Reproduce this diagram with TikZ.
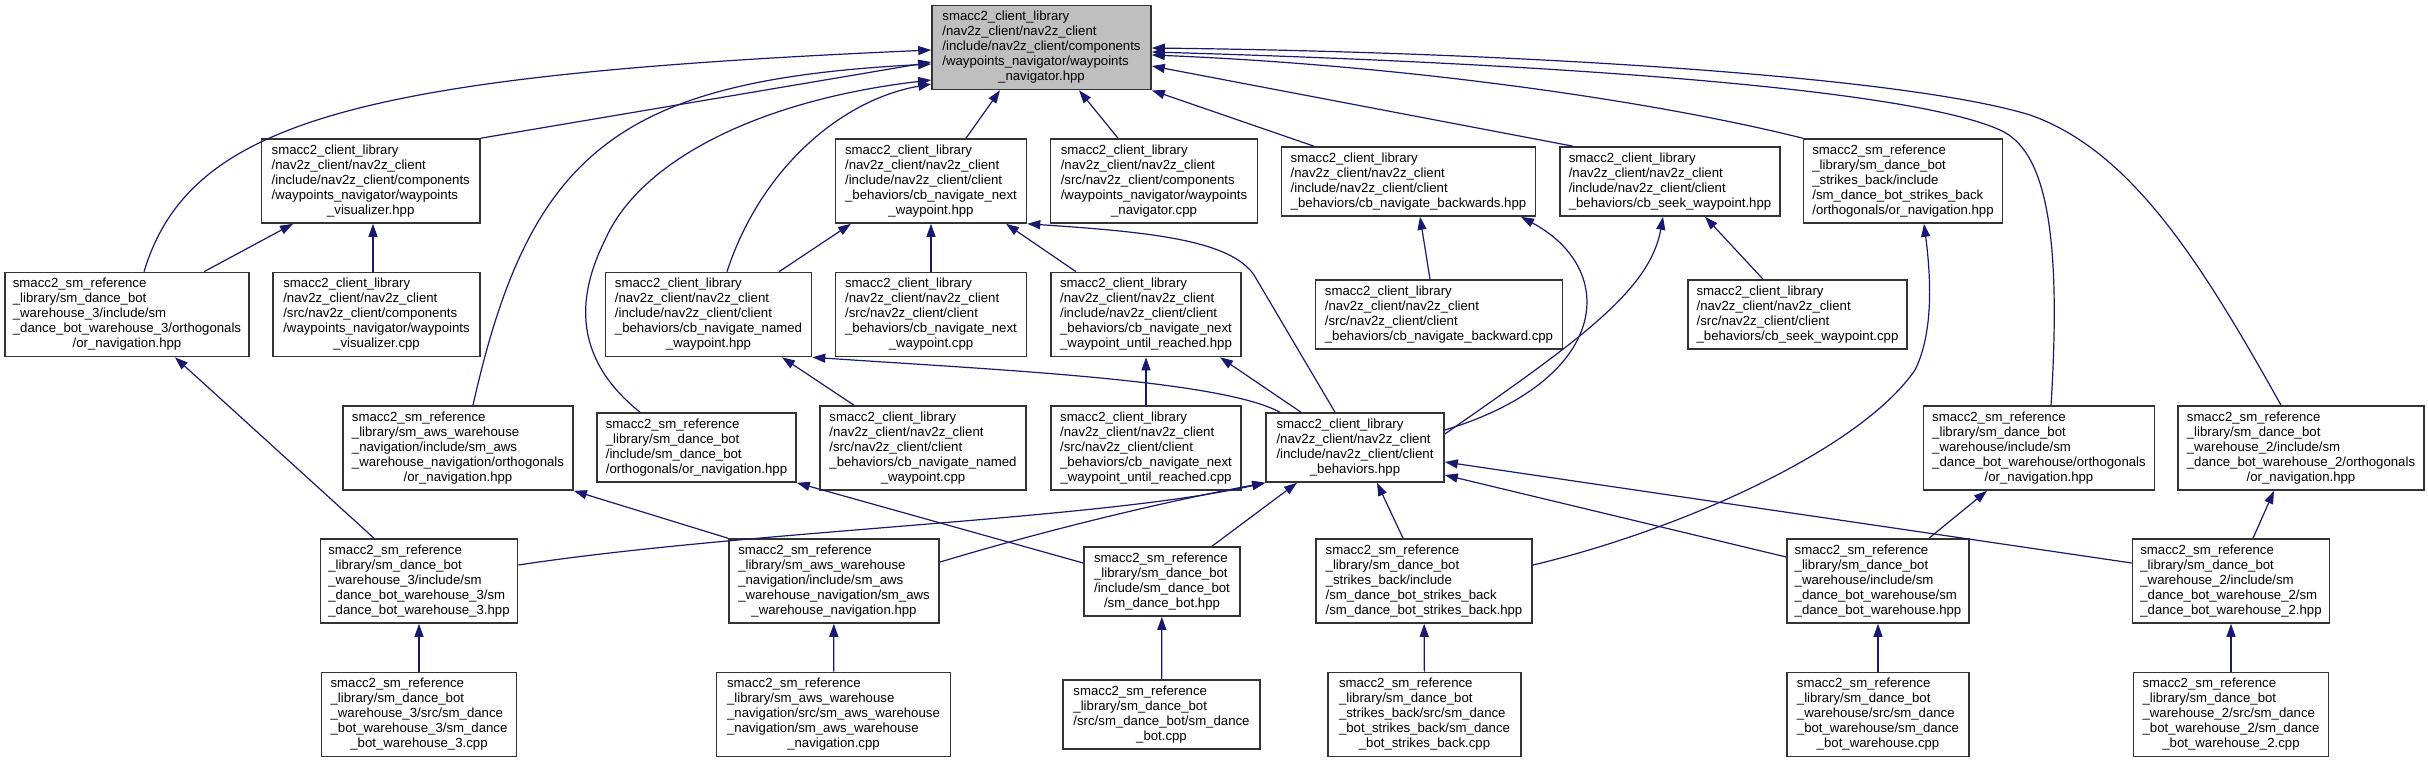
\documentclass[tikz,border=0pt]{standalone}
\usepackage{fontspec}
\setmainfont{Liberation Sans}
\usetikzlibrary{arrows.meta}
\definecolor{dxedge}{RGB}{25,25,112}
\definecolor{dxroot}{RGB}{191,191,191}
\newcommand{\flbl}[2]{\begin{tabular}{@{}l@{}}#1\\\multicolumn{1}{@{}c@{}}{#2}\end{tabular}}
\tikzset{
  filebox/.style={draw=black!80, line width=1.6pt, fill=white, inner sep=0pt, minimum height=84pt, font=\fontsize{13.2}{15}\selectfont},
  filebox4/.style={filebox, minimum height=69pt},
  rootbox/.style={filebox, fill=dxroot},
  inclarrow/.style={dxedge, line width=1.2pt, -{Triangle[length=13pt,width=9pt]}}
}
\begin{document}
\begin{tikzpicture}[x=1pt, y=-1pt]
\useasboundingbox (0,0) rectangle (2428,763);
% row 0
\node[rootbox, minimum width=219pt] (root) at (1041.5,47.5) {\flbl{smacc2\_client\_library\\/nav2z\_client/nav2z\_client\\/include/nav2z\_client/components\\/waypoints\_navigator/waypoints}{\_navigator.hpp}};
% row 1
\node[filebox, minimum width=218.5pt] (vishpp) at (370.75,181) {\flbl{smacc2\_client\_library\\/nav2z\_client/nav2z\_client\\/include/nav2z\_client/components\\/waypoints\_navigator/waypoints}{\_visualizer.hpp}};
\node[filebox, minimum width=191pt] (nexthpp) at (931,181) {\flbl{smacc2\_client\_library\\/nav2z\_client/nav2z\_client\\/include/nav2z\_client/client\\\_behaviors/cb\_navigate\_next}{\_waypoint.hpp}};
\node[filebox, minimum width=207pt] (navcpp) at (1154,181) {\flbl{smacc2\_client\_library\\/nav2z\_client/nav2z\_client\\/src/nav2z\_client/components\\/waypoints\_navigator/waypoints}{\_navigator.cpp}};
\node[filebox4, minimum width=254pt] (backhpp) at (1408.5,181.5) {\flbl{smacc2\_client\_library\\/nav2z\_client/nav2z\_client\\/include/nav2z\_client/client}{\_behaviors/cb\_navigate\_backwards.hpp}};
\node[filebox4, minimum width=220pt] (seekhpp) at (1670,181.5) {\flbl{smacc2\_client\_library\\/nav2z\_client/nav2z\_client\\/include/nav2z\_client/client}{\_behaviors/cb\_seek\_waypoint.hpp}};
\node[filebox, minimum width=199pt] (strikeor) at (1903,181) {\flbl{smacc2\_sm\_reference\\\_library/sm\_dance\_bot\\\_strikes\_back/include\\/sm\_dance\_bot\_strikes\_back}{/orthogonals/or\_navigation.hpp}};
% row 2
\node[filebox, minimum width=244pt] (w3or) at (127,314.5) {\flbl{smacc2\_sm\_reference\\\_library/sm\_dance\_bot\\\_warehouse\_3/include/sm\\\_dance\_bot\_warehouse\_3/orthogonals}{/or\_navigation.hpp}};
\node[filebox, minimum width=207pt] (viscpp) at (376.5,314.5) {\flbl{smacc2\_client\_library\\/nav2z\_client/nav2z\_client\\/src/nav2z\_client/components\\/waypoints\_navigator/waypoints}{\_visualizer.cpp}};
\node[filebox, minimum width=206pt] (namedhpp) at (708.5,314.5) {\flbl{smacc2\_client\_library\\/nav2z\_client/nav2z\_client\\/include/nav2z\_client/client\\\_behaviors/cb\_navigate\_named}{\_waypoint.hpp}};
\node[filebox, minimum width=191pt] (nextcpp) at (931,314.5) {\flbl{smacc2\_client\_library\\/nav2z\_client/nav2z\_client\\/src/nav2z\_client/client\\\_behaviors/cb\_navigate\_next}{\_waypoint.cpp}};
\node[filebox, minimum width=190pt] (untilhpp) at (1146,314.5) {\flbl{smacc2\_client\_library\\/nav2z\_client/nav2z\_client\\/include/nav2z\_client/client\\\_behaviors/cb\_navigate\_next}{\_waypoint\_until\_reached.hpp}};
\node[filebox4, minimum width=247pt] (backcpp) at (1439,314.5) {\flbl{smacc2\_client\_library\\/nav2z\_client/nav2z\_client\\/src/nav2z\_client/client}{\_behaviors/cb\_navigate\_backward.cpp}};
\node[filebox4, minimum width=219pt] (seekcpp) at (1797.5,314.5) {\flbl{smacc2\_client\_library\\/nav2z\_client/nav2z\_client\\/src/nav2z\_client/client}{\_behaviors/cb\_seek\_waypoint.cpp}};
% row 3
\node[filebox, minimum width=230pt] (awsor) at (458,448) {\flbl{smacc2\_sm\_reference\\\_library/sm\_aws\_warehouse\\\_navigation/include/sm\_aws\\\_warehouse\_navigation/orthogonals}{/or\_navigation.hpp}};
\node[filebox4, minimum width=199pt] (dbor) at (696.5,447.5) {\flbl{smacc2\_sm\_reference\\\_library/sm\_dance\_bot\\/include/sm\_dance\_bot}{/orthogonals/or\_navigation.hpp}};
\node[filebox, minimum width=206pt] (namedcpp) at (923,448) {\flbl{smacc2\_client\_library\\/nav2z\_client/nav2z\_client\\/src/nav2z\_client/client\\\_behaviors/cb\_navigate\_named}{\_waypoint.cpp}};
\node[filebox, minimum width=190pt] (untilcpp) at (1146,448) {\flbl{smacc2\_client\_library\\/nav2z\_client/nav2z\_client\\/src/nav2z\_client/client\\\_behaviors/cb\_navigate\_next}{\_waypoint\_until\_reached.cpp}};
\node[filebox4, minimum width=178pt] (cbhpp) at (1355,447.5) {\flbl{smacc2\_client\_library\\/nav2z\_client/nav2z\_client\\/include/nav2z\_client/client}{\_behaviors.hpp}};
\node[filebox, minimum width=231pt] (whor) at (2039,448) {\flbl{smacc2\_sm\_reference\\\_library/sm\_dance\_bot\\\_warehouse/include/sm\\\_dance\_bot\_warehouse/orthogonals}{/or\_navigation.hpp}};
\node[filebox, minimum width=246pt] (wh2or) at (2301,448) {\flbl{smacc2\_sm\_reference\\\_library/sm\_dance\_bot\\\_warehouse\_2/include/sm\\\_dance\_bot\_warehouse\_2/orthogonals}{/or\_navigation.hpp}};
% row 4
\node[filebox, minimum width=197pt] (w3hpp) at (419,581) {\flbl{smacc2\_sm\_reference\\\_library/sm\_dance\_bot\\\_warehouse\_3/include/sm\\\_dance\_bot\_warehouse\_3/sm}{\_dance\_bot\_warehouse\_3.hpp}};
\node[filebox, minimum width=210.5pt] (awshpp) at (834,581) {\flbl{smacc2\_sm\_reference\\\_library/sm\_aws\_warehouse\\\_navigation/include/sm\_aws\\\_warehouse\_navigation/sm\_aws}{\_warehouse\_navigation.hpp}};
\node[filebox4, minimum width=156pt] (dbhpp) at (1162,581.5) {\flbl{smacc2\_sm\_reference\\\_library/sm\_dance\_bot\\/include/sm\_dance\_bot}{/sm\_dance\_bot.hpp}};
\node[filebox, minimum width=216.5pt] (strikehpp) at (1424,581) {\flbl{smacc2\_sm\_reference\\\_library/sm\_dance\_bot\\\_strikes\_back/include\\/sm\_dance\_bot\_strikes\_back}{/sm\_dance\_bot\_strikes\_back.hpp}};
\node[filebox, minimum width=182pt] (whhpp) at (1878,581) {\flbl{smacc2\_sm\_reference\\\_library/sm\_dance\_bot\\\_warehouse/include/sm\\\_dance\_bot\_warehouse/sm}{\_dance\_bot\_warehouse.hpp}};
\node[filebox, minimum width=197pt] (wh2hpp) at (2231,581) {\flbl{smacc2\_sm\_reference\\\_library/sm\_dance\_bot\\\_warehouse\_2/include/sm\\\_dance\_bot\_warehouse\_2/sm}{\_dance\_bot\_warehouse\_2.hpp}};
% row 5
\node[filebox, minimum width=195pt] (w3cpp) at (419,714.5) {\flbl{smacc2\_sm\_reference\\\_library/sm\_dance\_bot\\\_warehouse\_3/src/sm\_dance\\\_bot\_warehouse\_3/sm\_dance}{\_bot\_warehouse\_3.cpp}};
\node[filebox, minimum width=234pt] (awscpp) at (833.5,714.5) {\flbl{smacc2\_sm\_reference\\\_library/sm\_aws\_warehouse\\\_navigation/src/sm\_aws\_warehouse\\\_navigation/sm\_aws\_warehouse}{\_navigation.cpp}};
\node[filebox4, minimum width=197pt] (dbcpp) at (1161.5,714.5) {\flbl{smacc2\_sm\_reference\\\_library/sm\_dance\_bot\\/src/sm\_dance\_bot/sm\_dance}{\_bot.cpp}};
\node[filebox, minimum width=193pt] (strikecpp) at (1424.5,714.5) {\flbl{smacc2\_sm\_reference\\\_library/sm\_dance\_bot\\\_strikes\_back/src/sm\_dance\\\_bot\_strikes\_back/sm\_dance}{\_bot\_strikes\_back.cpp}};
\node[filebox, minimum width=182pt] (whcpp) at (1878,714.5) {\flbl{smacc2\_sm\_reference\\\_library/sm\_dance\_bot\\\_warehouse/src/sm\_dance\\\_bot\_warehouse/sm\_dance}{\_bot\_warehouse.cpp}};
\node[filebox, minimum width=195pt] (wh2cpp) at (2231,714.5) {\flbl{smacc2\_sm\_reference\\\_library/sm\_dance\_bot\\\_warehouse\_2/src/sm\_dance\\\_bot\_warehouse\_2/sm\_dance}{\_bot\_warehouse\_2.cpp}};
% edges into the root
\draw[inclarrow] (w3or.north -| 144,0) .. controls (190,120) and (360,75) .. (root.west |- 0,50);
\draw[inclarrow] (vishpp.north east) -- (root.west |- 0,62);
\draw[inclarrow] (awsor.north -| 473,0) .. controls (530,150) and (620,80) .. (root.west |- 0,64);
\draw[inclarrow] (dbor.north -| 640,0) .. controls (575,360) and (575,300) .. (605,240) .. controls (640,160) and (760,100) .. (root.west |- 0,80);
\draw[inclarrow] (namedhpp.north -| 727,0) .. controls (760,170) and (840,100) .. (root.west |- 0,84);
\draw[inclarrow] (nexthpp.north -| 966,0) -- (root.south -| 1000,0);
\draw[inclarrow] (navcpp.north -| 1118,0) -- (root.south -| 1079,0);
\draw[inclarrow] (backhpp.north -| 1314,0) -- (root.south east);
\draw[inclarrow] (seekhpp.north -| 1573,0) -- (root.east |- 0,66);
\draw[inclarrow] (strikeor.north west) .. controls (1650,100) and (1400,65) .. (root.east |- 0,55);
\draw[inclarrow] (whor.north -| 2051,0) .. controls (2062,230) and (2045,150) .. (2000,130) .. controls (1900,85) and (1500,62) .. (root.east |- 0,52);
\draw[inclarrow] (wh2or.north -| 2281,0) .. controls (2200,260) and (2130,150) .. (2030,115) .. controls (1900,75) and (1500,52) .. (root.east |- 0,48);
% rows 1 and 2
\draw[inclarrow] (w3or.north -| 204,0) -- (vishpp.south -| 293,0);
\draw[inclarrow] (viscpp.north -| 373,0) -- (vishpp.south -| 373,0);
\draw[inclarrow] (namedhpp.north -| 779,0) -- (nexthpp.south -| 851,0);
\draw[inclarrow] (nextcpp) -- (nexthpp);
\draw[inclarrow] (untilhpp.north -| 1076,0) -- (nexthpp.south -| 1006,0);
\draw[inclarrow] (namedcpp.north -| 854,0) -- (namedhpp.south -| 782,0);
\draw[inclarrow] (untilcpp) -- (untilhpp);
\draw[inclarrow] (backcpp.north -| 1430,0) -- (backhpp.south -| 1420,0);
\draw[inclarrow] (seekcpp.north -| 1763,0) -- (seekhpp.south -| 1705,0);
% client_behaviors.hpp
\draw[inclarrow] (cbhpp.north -| 1335,0) -- (1254,275) .. controls (1230,240) and (1150,232) .. (nexthpp.south east);
\draw[inclarrow] (cbhpp.north -| 1280,0) .. controls (1220,380) and (1000,370) .. (namedhpp.south east);
\draw[inclarrow] (cbhpp.north -| 1301,0) -- (untilhpp.south -| 1220,0);
\draw[inclarrow] (cbhpp.east |- 0,430) .. controls (1610,380) and (1620,270) .. (backhpp.south -| 1521,0);
\draw[inclarrow] (cbhpp.east |- 0,434) .. controls (1580,340) and (1650,290) .. (seekhpp.south -| 1663,0);
% row 4
\draw[inclarrow] (w3hpp.north -| 374,0) -- (w3or.south -| 175,0);
\draw[inclarrow] (w3hpp.east |- 0,565) .. controls (750,530) and (1100,520) .. (cbhpp.south west);
\draw[inclarrow] (awshpp.north west) -- (awsor.south east);
\draw[inclarrow] (awshpp.east |- 0,562) .. controls (1080,520) and (1200,495) .. (cbhpp.south west);
\draw[inclarrow] (dbhpp.west |- 0,563) -- (dbor.south east);
\draw[inclarrow] (dbhpp.north -| 1212,0) -- (cbhpp.south -| 1297,0);
\draw[inclarrow] (strikehpp.north -| 1403,0) -- (cbhpp.south -| 1377,0);
\draw[inclarrow] (strikehpp.east |- 0,565) .. controls (1680,530) and (1860,450) .. (1915,370) .. controls (1935,330) and (1930,270) .. (strikeor.south -| 1924,0);
\draw[inclarrow] (whhpp.north -| 1929,0) -- (whor.south -| 1987,0);
\draw[inclarrow] (whhpp.west |- 0,557) -- (cbhpp.east |- 0,475);
\draw[inclarrow] (wh2hpp.north -| 2253,0) -- (wh2or.south -| 2274,0);
\draw[inclarrow] (wh2hpp.west |- 0,563) -- (cbhpp.east |- 0,462);
% sources to headers
\draw[inclarrow] (w3cpp) -- (w3hpp);
\draw[inclarrow] (awscpp) -- (awshpp);
\draw[inclarrow] (dbcpp) -- (dbhpp);
\draw[inclarrow] (strikecpp) -- (strikehpp);
\draw[inclarrow] (whcpp) -- (whhpp);
\draw[inclarrow] (wh2cpp) -- (wh2hpp);
\end{tikzpicture}
\end{document}
